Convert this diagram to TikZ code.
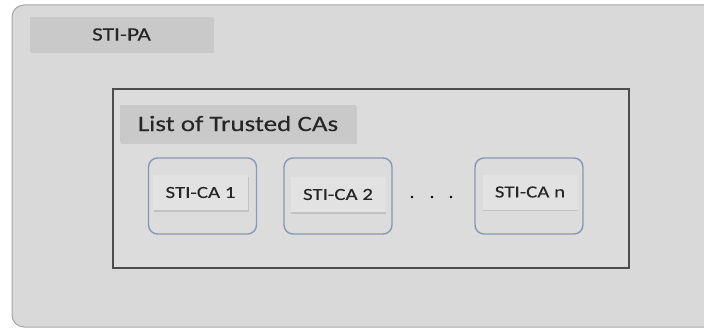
\documentclass[tikz,border=0pt]{standalone}
\usepackage{fontspec}
\setmainfont{Carlito}[FakeStretch=1.23, FakeBold=0.2]
\usepackage{xcolor}
\usetikzlibrary{calc,shadows}

\definecolor{panelgray}{HTML}{D9D9D9}
\definecolor{labelgray}{HTML}{C9C9C9}
\definecolor{caborder}{HTML}{8599B5}
\definecolor{cafill}{HTML}{DCDCDC}
\definecolor{tagfill}{HTML}{E2E2E2}

\tikzset{
  titletag/.style={fill=labelgray, inner sep=0pt, text=black!85,
    drop shadow={shadow xshift=1pt, shadow yshift=-1.5pt, fill=black!25, opacity=0.6}},
  cabox/.style={draw=caborder, line width=1.4pt, rounded corners=9pt, fill=cafill,
    minimum width=108pt, minimum height=76pt, inner sep=0pt},
  catag/.style={fill=tagfill, inner sep=0pt, minimum width=95pt, minimum height=35pt,
    text=black!85, font=\fontsize{17}{19}\selectfont,
    drop shadow={shadow xshift=0.5pt, shadow yshift=-1.5pt, fill=black!30, opacity=0.6}}
}

\begin{document}
\begin{tikzpicture}[x=1pt, y=-1pt]
  \useasboundingbox (0,0) rectangle (704,329);
  \fill[white] (0,0) rectangle (704,329);
  % outer panel
  \draw[black!35, line width=1pt, fill=panelgray, rounded corners=12pt] (12,5) rectangle (730,327);
  \node[titletag, minimum width=183pt, minimum height=35pt, font=\fontsize{19}{21}\selectfont] (pa) at (121.5,34.5) {STI-PA};
  % list of trusted CAs
  \draw[black!70, line width=1.4pt, fill=cafill] (113,89) rectangle (629,268);
  \node[titletag, minimum width=236pt, minimum height=37pt, font=\fontsize{22}{24}\selectfont] (list) at (238,123.5) {List of Trusted CAs};
  \node[cabox] (ca1) at (202.5,196) {};
  \node[cabox] (ca2) at (338,196) {};
  \node[cabox] (can) at (529,196) {};
  \node[catag] (tag1) at ($(ca1.center)+(-2,-3.5)$) {STI-CA 1};
  \node[catag] (tag2) at ($(ca2.center)+(0,-1.5)$) {STI-CA 2};
  \node[catag] (tagn) at ($(can.center)+(1,-4)$) {STI-CA n};
  \foreach \dx in {412,432,451}
    \fill[black] (\dx,197) circle (1.3pt);
\end{tikzpicture}
\end{document}
